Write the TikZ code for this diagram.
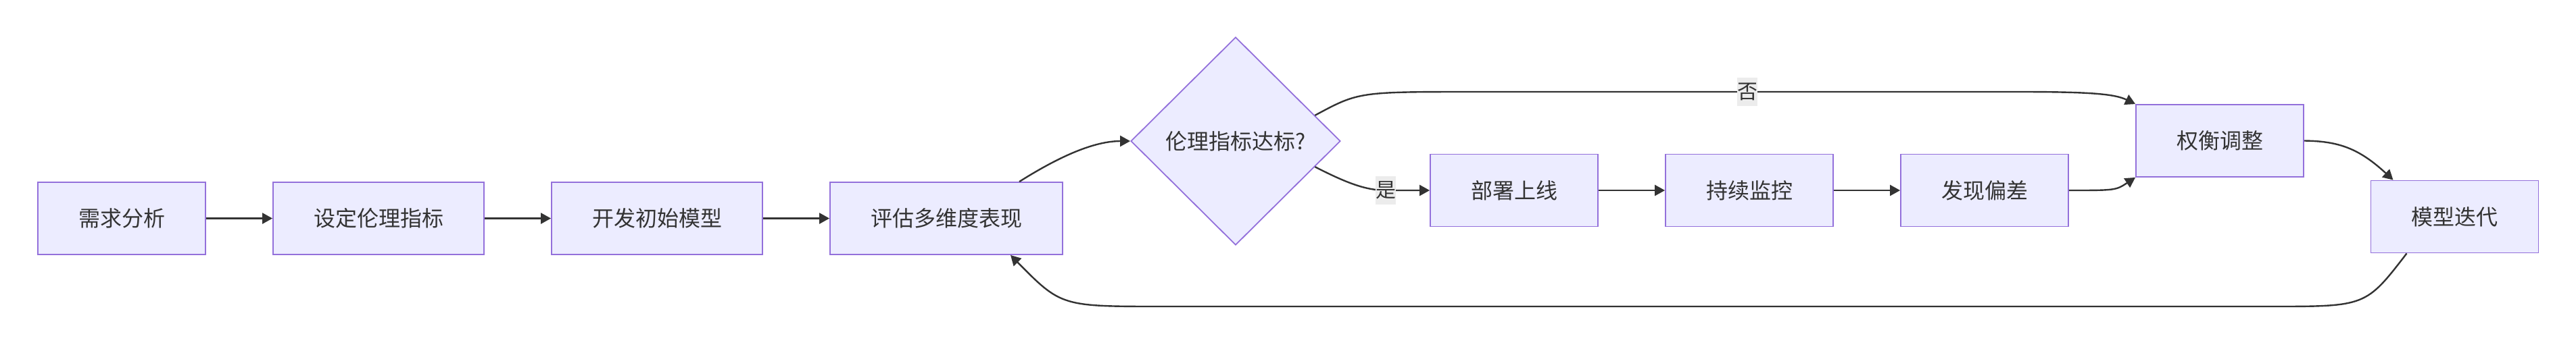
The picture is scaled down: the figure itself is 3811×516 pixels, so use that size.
\documentclass[tikz,border=0pt]{standalone}
\usepackage{fontspec}
\setmainfont{Noto Sans CJK SC}
\usepackage{xcolor}
\usepackage{tikz}
\usetikzlibrary{arrows.meta,shapes.geometric}
\definecolor{flowfill}{HTML}{ECECFF}
\definecolor{flowborder}{HTML}{9370DB}
\definecolor{flowline}{HTML}{333333}
\definecolor{flowlabel}{HTML}{ECECEC}

\tikzset{
  procbox/.style={draw=flowborder, fill=flowfill, line width=0.9pt,
    inner xsep=30pt, inner ysep=0pt, minimum height=53.5pt,
    text=flowline, font=\fontsize{16pt}{19pt}\selectfont},
  decbox/.style={shape=diamond, aspect=1, draw=flowborder, fill=flowfill,
    line width=0.9pt, inner sep=0pt, minimum width=155pt, minimum height=154pt,
    text=flowline, font=\fontsize{16pt}{19pt}\selectfont},
  flow/.style={draw=flowline, line width=1.2pt,
    -{Triangle[length=7.5pt,width=8pt]}},
  edgelabel/.style={fill=flowlabel, inner xsep=0pt, inner ysep=4pt,
    text=flowline, font=\fontsize{15pt}{18pt}\selectfont}
}

\begin{document}
\begin{tikzpicture}[x=0.5pt, y=-0.5pt]
\useasboundingbox (0,0) rectangle (3811,516);

% main row
\node[procbox] (req)    at (180,323.5)  {需求分析};
\node[procbox] (metric) at (560,323.5)  {设定伦理指标};
\node[procbox] (dev)    at (972,323.5)  {开发初始模型};
\node[procbox] (eval)   at (1400,323.5) {评估多维度表现};
\node[decbox]  (check)  at (1828,209)   {伦理指标达标?};

% deployment branch
\node[procbox] (deploy) at (2240,282)   {部署上线};
\node[procbox] (watch)  at (2588,282)   {持续监控};
\node[procbox] (bias)   at (2936,282)   {发现偏差};
\node[procbox] (trade)  at (3284,208.5) {权衡调整};
\node[procbox] (iter)   at (3631.5,321) {模型迭代};

\draw[flow] (req) -- (metric);
\draw[flow] (metric) -- (dev);
\draw[flow] (dev) -- (eval);
\draw[flow] ([xshift=54pt]eval.north) .. controls (1570,230) and (1620,209) .. (check.west);

\draw[flow] (check.-18) .. controls (1990,270) and (2020,282) .. (2050,282)
  node[edgelabel] (lblyes) {是} -- (deploy.west);
\draw[flow] (check.18) .. controls (2010,136) .. (2180,136)
  -- node[edgelabel] (lblno) {否} (2990,136)
  .. controls (3100,136) and (3130,140) .. (trade.north west);

\draw[flow] (deploy) -- (watch);
\draw[flow] (watch) -- (bias);
\draw[flow] (bias.east) .. controls (3130,282) .. (trade.south west);
\draw[flow] (trade.east) .. controls (3460,209) and (3490,220) .. ([xshift=-45.5pt]iter.north);

% feedback loop
\draw[flow] ([xshift=-35.5pt]iter.south) .. controls (3500,454) .. (3360,454)
  -- (1720,454) .. controls (1570,454) .. ([xshift=47.5pt]eval.south);
\end{tikzpicture}
\end{document}
